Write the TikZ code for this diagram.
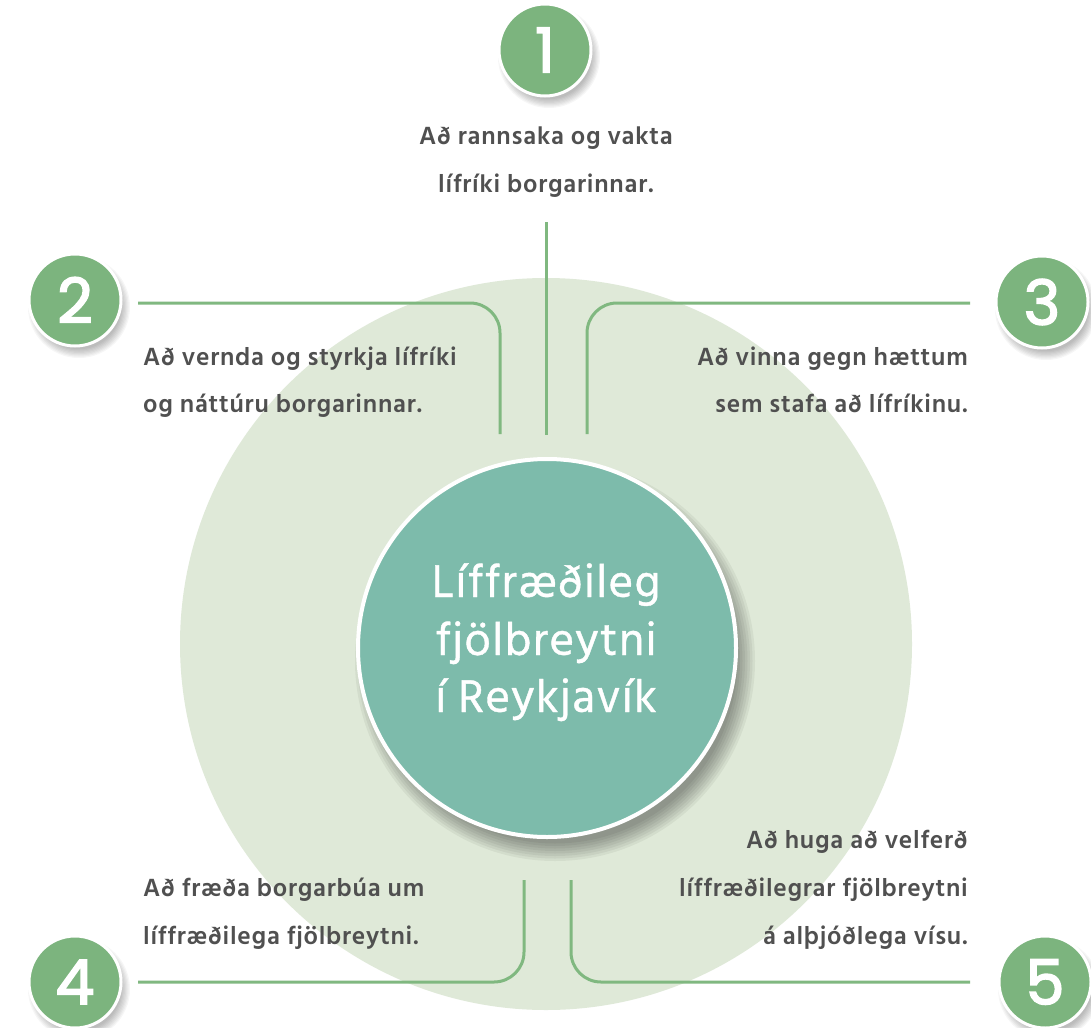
\documentclass[tikz,border=0pt]{standalone}
\usepackage{fontspec}
\setmainfont{Hind Siliguri}
\newfontfamily\bodyfont[LetterSpace=3]{Hind Siliguri}
\newfontfamily\titlefont[LetterSpace=3,FakeBold=0.8]{Hind Siliguri}
\newfontfamily\numfont[FakeBold=2.5]{Poppins}
\usetikzlibrary{shadows}
\definecolor{bigbg}{HTML}{DFE9D8}
\definecolor{centerfill}{HTML}{7DBBAB}
\definecolor{numgreen}{HTML}{7CB47E}
\definecolor{linegreen}{HTML}{80B880}
\definecolor{txtgray}{HTML}{505050}
\newcommand{\softshadow}[5]{% x, y, radius, spread, opacity
  \foreach \k in {1,...,8}{\fill[black, opacity=#5] (#1,#2) circle ({#3-#4+\k*#4/4});}}
\begin{document}
\begin{tikzpicture}[x=1pt,y=-1pt,
  numc/.style={circle, fill=numgreen, draw=white, line width=3pt, minimum size=92pt, inner sep=0pt},
  numt/.style={text=white, font=\numfont\fontsize{62}{62}\selectfont, inner sep=0pt},
  conn/.style={draw=linegreen, line width=3pt, rounded corners=30pt},
  lbl/.style={text=txtgray, font=\bodyfont\fontsize{25.5}{48}\selectfont\bfseries, inner sep=0pt},
  ttl/.style={text=white, font=\titlefont\fontsize{47}{57}\selectfont, inner sep=0pt}]
\useasboundingbox (0,0) rectangle (1091,1027);
\clip (0,0) rectangle (1091,1027);
\fill[white] (0,0) rectangle (1091,1027);
% big background circle
\node[circle, fill=bigbg, minimum size=732pt, inner sep=0pt] (bg) at (546,644) {};
% centre circle with soft shadow
\softshadow{555}{661}{190}{10}{0.05}
\node[circle, fill=centerfill, draw=white, line width=4pt, minimum size=378pt, inner sep=0pt] (center) at (547,648) {};
\node[ttl, anchor=base] (ttla) at (546,597) {Líffræðileg};
\node[ttl, anchor=base] (ttlb) at (546,655) {fjölbreytni};
\node[ttl, anchor=base] (ttlc) at (546,712) {í Reykjavík};
% number circles
\softshadow{549}{57}{46}{5}{0.035}
\softshadow{79}{307}{46}{5}{0.035}
\softshadow{1046}{309}{46}{5}{0.035}
\softshadow{79}{989}{46}{5}{0.035}
\softshadow{1049}{989}{46}{5}{0.035}
\node[numc] (n1) at (545,50) {};
\node[numc] (n2) at (75,300) {};
\node[numc] (n3) at (1042,302) {};
\node[numc] (n4) at (75,982) {};
\node[numc] (n5) at (1045,982) {};
\node[numt] (d1) at (n1) {1};
\node[numt] (d2) at (n2) {2};
\node[numt] (d3) at (n3) {3};
\node[numt] (d4) at (n4) {4};
\node[numt] (d5) at (n5) {5};
% connector endpoints
\coordinate (c1s) at (546,222);
\coordinate (c1e) at (546,435);
\coordinate (c2s) at (138,303);
\coordinate (c2e) at (500,434);
\coordinate (c3s) at (970,303);
\coordinate (c3e) at (587,434);
\coordinate (c4s) at (138,982);
\coordinate (c4e) at (524,880);
\coordinate (c5s) at (970,982);
\coordinate (c5e) at (571,880);
\draw[conn] (c1s) -- (c1e);
\draw[conn] (c2s) -| (c2e);
\draw[conn] (c3s) -| (c3e);
\draw[conn] (c4s) -| (c4e);
\draw[conn] (c5s) -| (c5e);
% labels
\node[lbl, anchor=base] (l1a) at (546,145) {Að rannsaka og vakta};
\node[lbl, anchor=base] (l1b) at (546,193) {lífríki borgarinnar.};
\node[lbl, anchor=base west] (l2a) at (143,365) {Að vernda og styrkja lífríki};
\node[lbl, anchor=base west] (l2b) at (143,412) {og náttúru borgarinnar.};
\node[lbl, anchor=base east] (l3a) at (968,365) {Að vinna gegn hættum};
\node[lbl, anchor=base east] (l3b) at (968,412) {sem stafa að lífríkinu.};
\node[lbl, anchor=base west] (l4a) at (143,896) {Að fræða borgarbúa um};
\node[lbl, anchor=base west] (l4b) at (143,944) {líffræðilega fjölbreytni.};
\node[lbl, anchor=base east] (l5a) at (968,848) {Að huga að velferð};
\node[lbl, anchor=base east] (l5b) at (968,896) {líffræðilegrar fjölbreytni};
\node[lbl, anchor=base east] (l5c) at (968,944) {á alþjóðlega vísu.};
\end{tikzpicture}
\end{document}
